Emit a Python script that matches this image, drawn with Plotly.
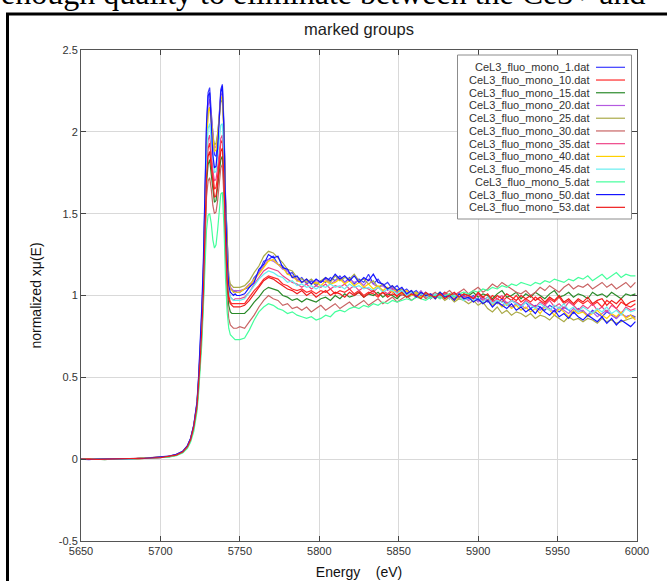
import plotly.graph_objects as go

# ---------------- data ----------------
energy = [
    5650, 5655, 5660, 5665, 5670, 5675, 5680, 5685, 5690, 5695, 5700, 5705, 5710, 5714, 5717, 5719, 5721, 5723,
    5724, 5725, 5726, 5727, 5728, 5729, 5730, 5731, 5732, 5733, 5734, 5735, 5736,
    5737, 5738, 5739, 5740, 5741, 5742, 5743, 5744, 5745, 5746, 5747, 5748,
    5750, 5753, 5756, 5759, 5762, 5765, 5768, 5771, 5774, 5777, 5780, 5783,
    5786, 5789, 5792, 5795, 5798, 5801, 5804, 5807, 5810, 5813, 5816, 5819,
    5822, 5825, 5828, 5831, 5834, 5837, 5840, 5843, 5846, 5849, 5852, 5855,
    5858, 5861, 5864, 5867, 5870, 5873, 5876, 5879, 5882, 5885, 5888, 5891,
    5894, 5897, 5900, 5903, 5906, 5909, 5912, 5915, 5918, 5921, 5924, 5927,
    5930, 5933, 5936, 5939, 5942, 5945, 5948, 5951, 5954, 5957, 5960, 5963,
    5966, 5969, 5972, 5975, 5978, 5981, 5984, 5987, 5990, 5993, 5996, 5999,
]

mu_1 = [
    0.000, -0.003, 0.002, -0.002, 0.001, -0.001, 0.003, 0.002, 0.005, 0.007, 0.010, 0.016, 0.028, 0.046, 0.080, 0.125, 0.205, 0.34,
    0.48, 0.65, 0.88, 1.15, 1.60, 2.02, 2.24, 2.27, 2.12, 1.95, 1.86, 1.85, 1.93,
    2.10, 2.26, 2.29, 2.05, 1.60, 1.28, 1.10, 1.05, 1.03, 1.02, 1.03, 1.02,
    1.02, 1.04, 1.05, 1.11, 1.14, 1.21, 1.22, 1.24, 1.19, 1.18, 1.13, 1.14,
    1.09, 1.11, 1.07, 1.09, 1.06, 1.09, 1.08, 1.11, 1.09, 1.12, 1.08, 1.11,
    1.07, 1.10, 1.08, 1.13, 1.07, 1.10, 1.06, 1.08, 1.04, 1.06, 1.02, 1.04,
    1.01, 1.03, 1.00, 1.02, 0.99, 1.01, 1.00, 1.02, 0.98, 1.01, 0.99, 1.00,
    0.98, 1.00, 0.97, 0.99, 0.96, 0.98, 0.95, 0.98, 0.94, 0.97, 0.95, 0.93,
    0.96, 0.92, 0.94, 0.93, 0.91, 0.94, 0.92, 0.90, 0.93, 0.91, 0.89, 0.92,
    0.90, 0.88, 0.91, 0.89, 0.87, 0.90, 0.88, 0.86, 0.89, 0.87, 0.88, 0.87,
]
mu_10 = [
    0.002, -0.001, 0.001, 0.000, -0.002, 0.001, 0.002, 0.004, 0.004, 0.008, 0.011, 0.015, 0.026, 0.044, 0.078, 0.122, 0.200, 0.33,
    0.45, 0.60, 0.80, 1.03, 1.42, 1.76, 1.90, 1.93, 1.84, 1.72, 1.65, 1.66, 1.73,
    1.84, 1.93, 1.95, 1.76, 1.38, 1.12, 1.00, 0.96, 0.95, 0.95, 0.95, 0.95,
    0.95, 0.95, 0.99, 1.03, 1.06, 1.10, 1.12, 1.11, 1.10, 1.07, 1.06, 1.04,
    1.03, 1.04, 1.02, 1.03, 1.01, 1.03, 1.02, 1.04, 1.01, 1.03, 1.02, 1.04,
    1.01, 1.03, 1.00, 1.02, 1.01, 0.99, 1.02, 1.00, 1.03, 0.99, 1.01, 1.00,
    1.02, 0.99, 1.01, 1.00, 0.98, 1.01, 0.99, 1.02, 1.00, 0.98, 1.01, 0.99,
    1.00, 0.98, 1.01, 0.99, 0.97, 1.00, 0.98, 0.96, 0.99, 0.97, 1.00, 0.96,
    0.98, 0.96, 0.99, 0.97, 0.95, 0.98, 0.96, 0.99, 0.95, 0.97, 0.94, 0.97,
    0.95, 0.97, 0.94, 0.96, 0.93, 0.97, 0.95, 0.92, 0.96, 0.94, 0.93, 0.95,
]
mu_15 = [
    -0.001, 0.002, 0.000, -0.003, 0.002, 0.000, 0.001, 0.003, 0.006, 0.006, 0.009, 0.014, 0.025, 0.043, 0.075, 0.118, 0.195, 0.32,
    0.44, 0.58, 0.77, 0.98, 1.35, 1.68, 1.80, 1.83, 1.74, 1.63, 1.57, 1.58, 1.65,
    1.75, 1.83, 1.85, 1.66, 1.30, 1.05, 0.94, 0.90, 0.89, 0.89, 0.89, 0.89,
    0.89, 0.89, 0.92, 0.96, 0.99, 1.03, 1.05, 1.04, 1.03, 1.00, 0.99, 0.97,
    0.98, 0.96, 0.98, 0.97, 0.96, 0.98, 0.99, 0.97, 1.00, 0.98, 1.01, 0.99,
    1.00, 1.02, 0.99, 1.01, 1.00, 1.02, 0.99, 1.01, 1.00, 0.98, 1.01, 0.99,
    1.00, 1.02, 0.99, 1.01, 0.98, 1.00, 1.02, 0.99, 1.01, 1.00, 0.98, 1.01,
    1.00, 1.02, 0.99, 1.01, 1.00, 0.98, 1.01, 1.03, 0.99, 1.00, 1.02, 0.98,
    1.01, 0.99, 1.02, 1.00, 0.98, 1.01, 1.03, 0.99, 1.00, 1.02, 0.99, 1.01,
    1.00, 0.98, 1.02, 1.00, 1.01, 0.99, 1.02, 1.00, 0.98, 1.01, 1.00, 1.01,
]
mu_20 = [
    0.001, -0.002, -0.001, 0.002, 0.000, -0.002, 0.002, 0.003, 0.004, 0.007, 0.010, 0.017, 0.029, 0.047, 0.081, 0.126, 0.207, 0.34,
    0.47, 0.64, 0.86, 1.12, 1.55, 1.96, 2.16, 2.20, 2.10, 1.97, 1.90, 1.91, 1.98,
    2.10, 2.22, 2.24, 2.02, 1.58, 1.27, 1.10, 1.05, 1.04, 1.03, 1.03, 1.03,
    1.03, 1.04, 1.07, 1.09, 1.14, 1.18, 1.22, 1.21, 1.19, 1.16, 1.15, 1.11,
    1.10, 1.08, 1.09, 1.07, 1.09, 1.08, 1.10, 1.07, 1.09, 1.11, 1.08, 1.10,
    1.08, 1.09, 1.06, 1.10, 1.07, 1.05, 1.06, 1.03, 1.05, 1.02, 1.04, 1.01,
    1.02, 1.00, 1.03, 0.99, 1.01, 1.00, 0.98, 1.01, 0.99, 1.00, 0.98, 0.99,
    0.97, 0.99, 0.96, 0.98, 0.97, 0.95, 0.97, 0.94, 0.96, 0.93, 0.95, 0.94,
    0.92, 0.95, 0.93, 0.91, 0.94, 0.92, 0.90, 0.93, 0.91, 0.89, 0.92, 0.90,
    0.91, 0.88, 0.90, 0.87, 0.89, 0.91, 0.88, 0.86, 0.89, 0.87, 0.88, 0.86,
]
mu_25 = [
    0.000, 0.001, -0.002, 0.001, -0.001, 0.002, 0.000, 0.003, 0.006, 0.008, 0.012, 0.017, 0.027, 0.045, 0.079, 0.123, 0.203, 0.33,
    0.46, 0.62, 0.84, 1.10, 1.52, 1.92, 2.12, 2.15, 2.08, 1.97, 1.92, 1.93, 1.99,
    2.08, 2.18, 2.20, 2.00, 1.58, 1.28, 1.12, 1.07, 1.06, 1.05, 1.05, 1.05,
    1.05, 1.06, 1.09, 1.14, 1.18, 1.24, 1.27, 1.26, 1.23, 1.20, 1.16, 1.15,
    1.11, 1.10, 1.08, 1.10, 1.07, 1.09, 1.11, 1.08, 1.12, 1.09, 1.11, 1.10,
    1.13, 1.09, 1.10, 1.07, 1.09, 1.05, 1.07, 1.04, 1.06, 1.02, 1.04, 1.01,
    1.03, 1.00, 1.02, 0.99, 1.01, 0.98, 1.00, 0.97, 0.99, 0.96, 0.98, 0.97,
    0.95, 0.97, 0.94, 0.96, 0.92, 0.90, 0.93, 0.89, 0.91, 0.88, 0.90, 0.89,
    0.87, 0.89, 0.86, 0.88, 0.87, 0.85, 0.88, 0.86, 0.84, 0.87, 0.85, 0.86,
    0.84, 0.86, 0.85, 0.83, 0.86, 0.84, 0.85, 0.83, 0.84, 0.85, 0.86, 0.87,
]
mu_30 = [
    0.001, -0.002, 0.002, 0.000, -0.001, 0.001, -0.001, 0.002, 0.004, 0.006, 0.009, 0.014, 0.024, 0.042, 0.074, 0.117, 0.193, 0.31,
    0.43, 0.57, 0.75, 0.96, 1.30, 1.60, 1.70, 1.72, 1.65, 1.55, 1.50, 1.51, 1.58,
    1.70, 1.78, 1.80, 1.60, 1.22, 0.97, 0.86, 0.82, 0.81, 0.80, 0.80, 0.80,
    0.81, 0.80, 0.84, 0.88, 0.93, 0.97, 1.00, 0.98, 0.97, 0.94, 0.95, 0.92,
    0.93, 0.91, 0.93, 0.90, 0.92, 0.94, 0.91, 0.93, 0.95, 0.92, 0.94, 0.96,
    0.93, 0.95, 0.97, 0.94, 0.96, 0.98, 0.95, 0.97, 0.99, 0.96, 0.98, 1.00,
    0.97, 0.99, 1.01, 0.98, 1.00, 1.02, 0.99, 1.01, 1.03, 1.00, 1.02, 1.04,
    1.01, 1.03, 1.05, 1.02, 1.04, 1.07, 1.05, 1.08, 1.06, 1.04, 1.02, 1.01,
    1.03, 1.00, 1.02, 1.05, 1.03, 1.06, 1.04, 1.02, 1.05, 1.07, 1.04, 1.06,
    1.05, 1.07, 1.04, 1.06, 1.08, 1.05, 1.07, 1.04, 1.06, 1.08, 1.05, 1.08,
]
mu_35 = [
    -0.002, 0.000, 0.001, -0.001, 0.002, -0.002, 0.001, 0.004, 0.005, 0.006, 0.011, 0.016, 0.027, 0.045, 0.078, 0.121, 0.201, 0.33,
    0.46, 0.61, 0.82, 1.05, 1.45, 1.80, 1.95, 1.98, 1.88, 1.76, 1.70, 1.71, 1.78,
    1.88, 1.96, 1.98, 1.80, 1.42, 1.16, 1.03, 0.99, 0.98, 0.97, 0.98, 0.98,
    0.98, 0.99, 1.02, 1.07, 1.11, 1.15, 1.17, 1.16, 1.15, 1.12, 1.10, 1.08,
    1.07, 1.05, 1.07, 1.04, 1.06, 1.05, 1.07, 1.04, 1.06, 1.05, 1.07, 1.04,
    1.06, 1.03, 1.05, 1.04, 1.02, 1.05, 1.03, 1.01, 1.04, 1.02, 1.00, 1.03,
    1.01, 0.99, 1.02, 1.00, 0.98, 1.01, 0.99, 1.01, 0.98, 1.00, 1.02, 0.99,
    1.00, 0.98, 1.01, 0.97, 0.99, 0.96, 0.98, 1.00, 0.95, 0.97, 0.96, 0.94,
    0.97, 0.95, 0.93, 0.96, 0.94, 0.97, 0.93, 0.95, 0.92, 0.96, 0.94, 0.91,
    0.94, 0.92, 0.95, 0.91, 0.93, 0.90, 0.94, 0.92, 0.89, 0.93, 0.91, 0.92,
]
mu_40 = [
    0.000, -0.001, 0.001, -0.002, 0.001, 0.000, 0.002, 0.002, 0.005, 0.008, 0.010, 0.016, 0.028, 0.046, 0.079, 0.124, 0.204, 0.34,
    0.47, 0.63, 0.85, 1.10, 1.53, 1.93, 2.12, 2.15, 2.05, 1.94, 1.88, 1.89, 1.96,
    2.08, 2.20, 2.22, 1.98, 1.55, 1.24, 1.08, 1.04, 1.03, 1.02, 1.02, 1.02,
    1.02, 1.04, 1.06, 1.10, 1.13, 1.17, 1.21, 1.22, 1.19, 1.17, 1.13, 1.12,
    1.09, 1.08, 1.10, 1.07, 1.08, 1.06, 1.09, 1.07, 1.08, 1.10, 1.07, 1.09,
    1.06, 1.08, 1.05, 1.07, 1.04, 1.06, 1.03, 1.05, 1.02, 1.04, 1.01, 1.03,
    1.00, 1.02, 0.99, 1.01, 1.00, 0.98, 1.01, 0.99, 1.00, 0.97, 0.99, 0.98,
    0.99, 0.96, 0.98, 0.95, 0.97, 0.94, 0.96, 0.93, 0.95, 0.92, 0.94, 0.91,
    0.93, 0.90, 0.92, 0.89, 0.93, 0.91, 0.88, 0.92, 0.90, 0.87, 0.91, 0.89,
    0.90, 0.87, 0.89, 0.91, 0.88, 0.86, 0.89, 0.87, 0.90, 0.86, 0.88, 0.85,
]
mu_45 = [
    0.001, 0.000, -0.002, 0.001, 0.000, 0.001, -0.001, 0.003, 0.004, 0.007, 0.010, 0.015, 0.026, 0.044, 0.077, 0.120, 0.199, 0.33,
    0.46, 0.62, 0.83, 1.07, 1.48, 1.85, 2.02, 2.05, 1.95, 1.82, 1.75, 1.76, 1.84,
    1.95, 2.04, 2.05, 1.85, 1.45, 1.18, 1.03, 0.99, 0.98, 0.97, 0.97, 0.97,
    0.97, 0.98, 1.02, 1.06, 1.10, 1.13, 1.15, 1.14, 1.12, 1.11, 1.08, 1.09,
    1.06, 1.07, 1.05, 1.06, 1.04, 1.06, 1.05, 1.07, 1.05, 1.06, 1.04, 1.07,
    1.05, 1.06, 1.04, 1.05, 1.03, 1.05, 1.02, 1.04, 1.03, 1.01, 1.03, 1.00,
    1.02, 0.99, 1.01, 1.00, 0.98, 1.01, 0.99, 1.00, 0.98, 1.00, 0.99, 0.97,
    0.99, 0.97, 0.98, 0.96, 0.99, 0.95, 0.97, 0.96, 0.94, 0.97, 0.95, 0.93,
    0.96, 0.94, 0.92, 0.95, 0.93, 0.91, 0.94, 0.92, 0.95, 0.91, 0.93, 0.90,
    0.93, 0.91, 0.89, 0.92, 0.90, 0.93, 0.89, 0.91, 0.88, 0.92, 0.90, 0.91,
]
mu_5 = [
    -0.001, 0.001, 0.000, 0.002, -0.002, 0.000, 0.001, 0.001, 0.003, 0.005, 0.007, 0.012, 0.021, 0.037, 0.066, 0.104, 0.170, 0.29,
    0.40, 0.53, 0.70, 0.92, 1.18, 1.40, 1.49, 1.50, 1.44, 1.34, 1.29, 1.31, 1.40,
    1.53, 1.62, 1.63, 1.42, 1.10, 0.90, 0.80, 0.76, 0.75, 0.74, 0.73, 0.73,
    0.73, 0.74, 0.79, 0.85, 0.90, 0.93, 0.95, 0.94, 0.92, 0.91, 0.89, 0.90,
    0.88, 0.87, 0.86, 0.87, 0.85, 0.86, 0.88, 0.87, 0.90, 0.91, 0.90, 0.92,
    0.93, 0.92, 0.94, 0.93, 0.95, 0.94, 0.96, 0.95, 0.97, 0.96, 0.97, 0.98,
    0.97, 0.99, 0.98, 0.97, 0.99, 1.00, 0.98, 1.00, 1.01, 0.99, 1.01, 1.02,
    1.01, 1.03, 1.02, 1.04, 1.03, 1.05, 1.04, 1.06, 1.05, 1.07, 1.06, 1.08,
    1.07, 1.06, 1.08, 1.07, 1.09, 1.08, 1.10, 1.09, 1.08, 1.10, 1.09, 1.11,
    1.10, 1.12, 1.09, 1.11, 1.13, 1.10, 1.12, 1.14, 1.11, 1.13, 1.12, 1.12,
]
mu_50 = [
    0.001, -0.002, 0.000, 0.001, -0.001, 0.002, 0.001, 0.003, 0.005, 0.009, 0.012, 0.018, 0.030, 0.048, 0.083, 0.128, 0.210, 0.35,
    0.50, 0.68, 0.92, 1.20, 1.65, 2.05, 2.22, 2.24, 2.05, 1.86, 1.78, 1.79, 1.90,
    2.08, 2.24, 2.28, 2.00, 1.55, 1.22, 1.06, 1.02, 1.01, 1.00, 1.01, 1.00,
    1.00, 1.01, 1.05, 1.08, 1.16, 1.19, 1.25, 1.23, 1.24, 1.17, 1.16, 1.11,
    1.12, 1.08, 1.10, 1.07, 1.10, 1.08, 1.11, 1.09, 1.13, 1.10, 1.12, 1.09,
    1.12, 1.08, 1.11, 1.09, 1.13, 1.08, 1.07, 1.04, 1.06, 1.03, 1.05, 1.01,
    1.03, 0.99, 1.02, 1.00, 1.01, 0.98, 1.02, 0.99, 1.00, 0.97, 1.01, 0.98,
    0.99, 0.96, 0.98, 0.95, 0.97, 0.93, 0.96, 0.94, 0.92, 0.95, 0.91, 0.93,
    0.90, 0.92, 0.89, 0.93, 0.90, 0.88, 0.91, 0.87, 0.89, 0.86, 0.90, 0.87,
    0.85, 0.88, 0.86, 0.84, 0.87, 0.83, 0.86, 0.82, 0.85, 0.83, 0.81, 0.84,
]
mu_53 = [
    0.000, 0.002, -0.001, 0.000, 0.001, -0.001, 0.000, 0.002, 0.004, 0.007, 0.009, 0.015, 0.025, 0.043, 0.076, 0.119, 0.197, 0.32,
    0.45, 0.60, 0.79, 1.01, 1.38, 1.72, 1.85, 1.88, 1.79, 1.67, 1.60, 1.61, 1.68,
    1.79, 1.88, 1.90, 1.72, 1.35, 1.10, 0.98, 0.95, 0.94, 0.93, 0.93, 0.93,
    0.93, 0.94, 0.97, 1.01, 1.05, 1.09, 1.11, 1.10, 1.08, 1.06, 1.04, 1.03,
    1.01, 1.03, 1.00, 1.02, 0.99, 1.01, 1.03, 1.00, 1.02, 1.01, 0.99, 1.02,
    1.00, 1.02, 0.99, 1.01, 1.03, 1.00, 1.02, 0.99, 1.01, 1.00, 1.02, 0.99,
    1.01, 1.00, 0.98, 1.02, 1.00, 0.99, 1.01, 0.98, 1.00, 1.02, 0.99, 1.01,
    1.00, 0.98, 1.02, 0.99, 1.01, 0.97, 1.00, 0.98, 1.01, 0.99, 0.97, 1.00,
    0.98, 1.00, 0.97, 0.99, 0.96, 0.99, 0.97, 1.00, 0.96, 0.98, 0.95, 0.98,
    0.96, 0.99, 0.95, 0.97, 0.98, 0.94, 0.97, 0.95, 0.98, 0.94, 0.96, 0.97,
]

file_names = [
    "CeL3_fluo_mono_1.dat", "CeL3_fluo_mono_10.dat", "CeL3_fluo_mono_15.dat",
    "CeL3_fluo_mono_20.dat", "CeL3_fluo_mono_25.dat", "CeL3_fluo_mono_30.dat",
    "CeL3_fluo_mono_35.dat", "CeL3_fluo_mono_40.dat", "CeL3_fluo_mono_45.dat",
    "CeL3_fluo_mono_5.dat", "CeL3_fluo_mono_50.dat", "CeL3_fluo_mono_53.dat",
]
series_values = [mu_1, mu_10, mu_15, mu_20, mu_25, mu_30, mu_35, mu_40, mu_45, mu_5, mu_50, mu_53]

x_ticks = [5650, 5700, 5750, 5800, 5850, 5900, 5950, 6000]
y_ticks = [-0.5, 0, 0.5, 1, 1.5, 2, 2.5]
y_tick_labels = ["-0.5", "0", "0.5", "1", "1.5", "2", "2.5"]

# ---------------- style ----------------
line_colors = [
    "#3b3bff", "#ff2a2a", "#2a8a2a", "#b45ae0", "#aaaa48", "#c86464",
    "#ee4488", "#ffd000", "#66eef0", "#44ff9c", "#1414ff", "#ee1c1c",
]

W, H = 667, 581
L, R, T, B = 81, 30, 50, 40
pw, ph = W - L - R, H - T - B


def px_x(px):
    return (px - L) / pw


def px_y(py):
    return (H - B - py) / ph


fig = go.Figure()
for name, vals, col in zip(file_names, series_values, line_colors):
    assert len(vals) == len(energy), (name, len(vals))
    fig.add_trace(go.Scatter(x=energy, y=vals, mode="lines", name=name,
                             line=dict(color=col, width=1.2), showlegend=False))

shapes = []
annotations = []

# legend box (custom: text on the left, line sample on the right)
shapes.append(dict(type="rect", xref="paper", yref="paper",
                   x0=px_x(457.5), x1=px_x(631.5), y0=px_y(219), y1=px_y(55),
                   line=dict(color="#8c8c8c", width=1), fillcolor="white", layer="above"))
for k, (name, col) in enumerate(zip(file_names, line_colors)):
    yy = px_y(67.3 + 12.73 * k)
    annotations.append(dict(xref="paper", yref="paper", x=px_x(591), y=yy,
                            xanchor="right", yanchor="middle", text=name, showarrow=False,
                            font=dict(family="Liberation Sans, Arial", size=11, color="#333333")))
    shapes.append(dict(type="line", xref="paper", yref="paper",
                       x0=px_x(596), x1=px_x(625), y0=yy, y1=yy,
                       line=dict(color=col, width=1.2), layer="above"))

# outer black frame of the page
shapes.append(dict(type="rect", xref="paper", yref="paper",
                   x0=px_x(7.5), x1=px_x(720), y0=px_y(640), y1=px_y(14),
                   line=dict(color="black", width=3), layer="above"))

# cut-off document text at the very top
annotations.append(dict(xref="paper", yref="paper", x=px_x(-1), y=px_y(13),
                        xanchor="left", yanchor="bottom",
                        text="enough quality to eliminate between the Ce3+ and",
                        showarrow=False,
                        font=dict(family="Liberation Serif, Times New Roman", size=32, color="black")))

fig.update_layout(
    width=W, height=H,
    margin=dict(l=L, r=R, t=T, b=B, autoexpand=False),
    paper_bgcolor="white", plot_bgcolor="white",
    title=dict(text="marked groups", x=0.5, xref="paper", xanchor="center",
               y=1 - 29 / H, yref="container", yanchor="middle",
               font=dict(family="Liberation Sans, Arial", size=16.5, color="#222222")),
    shapes=shapes, annotations=annotations,
    font=dict(family="Liberation Sans, Arial", size=11, color="#333333"),
)
fig.update_xaxes(range=[5650, 6000], tickvals=x_ticks, ticks="inside", ticklen=5,
                 tickcolor="#444444", showline=True, linecolor="#555555", linewidth=1,
                 mirror="ticks", showgrid=True, gridcolor="#d9d9d9", gridwidth=1,
                 zeroline=False, tickfont=dict(size=11, color="#333333"),
                 title=dict(text="Energy\u00a0\u00a0\u00a0\u00a0(eV)", standoff=10,
                            font=dict(size=14, color="#111111")))
fig.update_yaxes(range=[-0.5, 2.5], tickvals=y_ticks, ticktext=y_tick_labels,
                 ticks="inside", ticklen=5, tickcolor="#444444", showline=True,
                 linecolor="#555555", linewidth=1, mirror="ticks", showgrid=True,
                 gridcolor="#d9d9d9", gridwidth=1, zeroline=False,
                 tickfont=dict(size=11, color="#333333"),
                 title=dict(text="normalized x\u03bc(E)", standoff=13,
                            font=dict(size=14, color="#111111")))

fig.write_html("out.html", config={"displayModeBar": False},
               post_script="document.body.style.margin='0';")
